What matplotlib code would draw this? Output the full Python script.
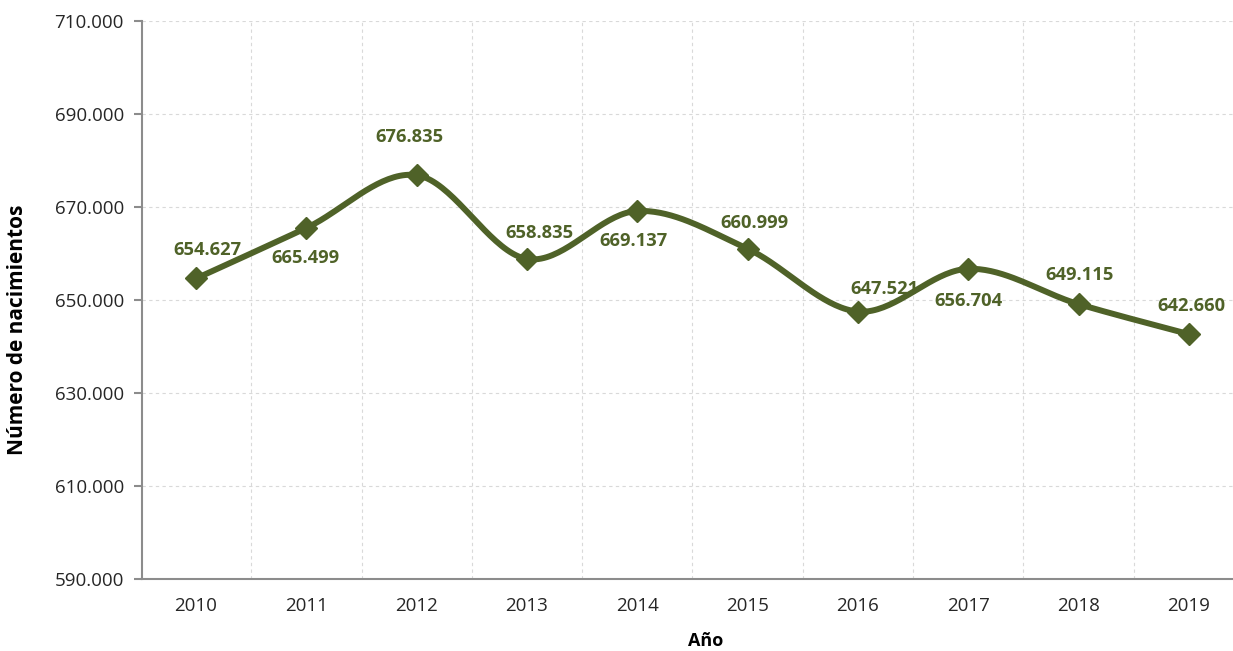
import numpy as np
import matplotlib.pyplot as plt

years = ['2010', '2011', '2012', '2013', '2014', '2015', '2016', '2017', '2018', '2019']
births = [654627, 665499, 676835, 658835, 669137, 660999, 647521, 656704, 649115, 642660]
# label offsets in pixels (dx, dy) relative to each marker
label_offsets = [(11, 28), (-1, -30), (-7, 38), (12, 26), (-4, -30),
                 (7, 26), (27, 23), (0, -32), (1, 29), (3, 28)]

COLOR = '#4f6228'
plt.rcParams['font.family'] = ['Open Sans', 'DejaVu Sans']


def fmt_es(v):
    return f"{v:,.0f}".replace(',', '.')


def smooth_curve(x, y, n=40):
    # Catmull-Rom style smoothing similar to spreadsheet "smoothed line"
    x = np.asarray(x, float)
    y = np.asarray(y, float)
    px = np.concatenate([[x[0]], x, [x[-1]]])
    py = np.concatenate([[y[0]], y, [y[-1]]])
    xs, ys = [], []
    t = np.linspace(0, 1, n)
    for i in range(1, len(px) - 2):
        p0, p1, p2, p3 = [np.array([px[j], py[j]]) for j in (i - 1, i, i + 1, i + 2)]
        c1 = p1 + (p2 - p0) / 6
        c2 = p2 - (p3 - p1) / 6
        b = ((1 - t) ** 3)[:, None] * p1 + (3 * (1 - t) ** 2 * t)[:, None] * c1 \
            + (3 * (1 - t) * t ** 2)[:, None] * c2 + (t ** 3)[:, None] * p2
        xs.extend(b[:, 0])
        ys.extend(b[:, 1])
    return np.array(xs), np.array(ys)


fig = plt.figure(figsize=(12.33, 6.51), dpi=100)
ax = fig.add_axes([142 / 1233, 1 - 579 / 651, (1233 - 142) / 1233, (579 - 21) / 651])

x = np.arange(len(years))
sx, sy = smooth_curve(x, births)
ax.plot(sx, sy, color=COLOR, lw=4.3, solid_capstyle='round', zorder=3)
ax.plot(x, births, linestyle='none', marker='D', ms=11, color=COLOR, zorder=4)

for xi, v, (dx, dy) in zip(x, births, label_offsets):
    ax.annotate(fmt_es(v), (xi, v), xytext=(dx * 0.72, dy * 0.72), textcoords='offset points',
                ha='center', va='center', fontsize=13.2, fontweight='bold', color=COLOR, zorder=5)

ax.set_xlim(-0.49, 9.4)
ax.set_ylim(590000, 710000)
ax.set_yticks(np.arange(590000, 710001, 20000))
ax.set_yticklabels([fmt_es(v) for v in np.arange(590000, 710001, 20000)])
ax.set_xticks(x)
ax.set_xticklabels(years)
ax.set_xticks(np.arange(0.5, 9.5, 1), minor=True)

ax.grid(True, which='major', axis='y', color='#d9d9d9', linestyle=(0, (3, 3)), lw=0.8)
ax.grid(True, which='minor', axis='x', color='#d9d9d9', linestyle=(0, (3, 3)), lw=0.8)
ax.set_axisbelow(True)

for s in ('top', 'right'):
    ax.spines[s].set_visible(False)
for s in ('left', 'bottom'):
    ax.spines[s].set_color('#8c8c8c')
    ax.spines[s].set_linewidth(1.5)

ax.tick_params(axis='y', which='major', length=6, color='#8c8c8c', width=1.5, labelsize=13.5,
               labelcolor='#262626', pad=7)
ax.tick_params(axis='x', which='major', length=0, labelsize=13.5, labelcolor='#262626', pad=13)
ax.tick_params(axis='x', which='minor', length=0)

fig.text(18 / 1233, 1 - 330 / 651, 'Número de nacimientos', rotation=90, ha='center', va='center',
         fontsize=15, fontweight='bold')
fig.text(706 / 1233, 1 - 641 / 651, 'Año', ha='center', va='center', fontsize=13, fontweight='bold')

fig.savefig('out.png', dpi=100)
